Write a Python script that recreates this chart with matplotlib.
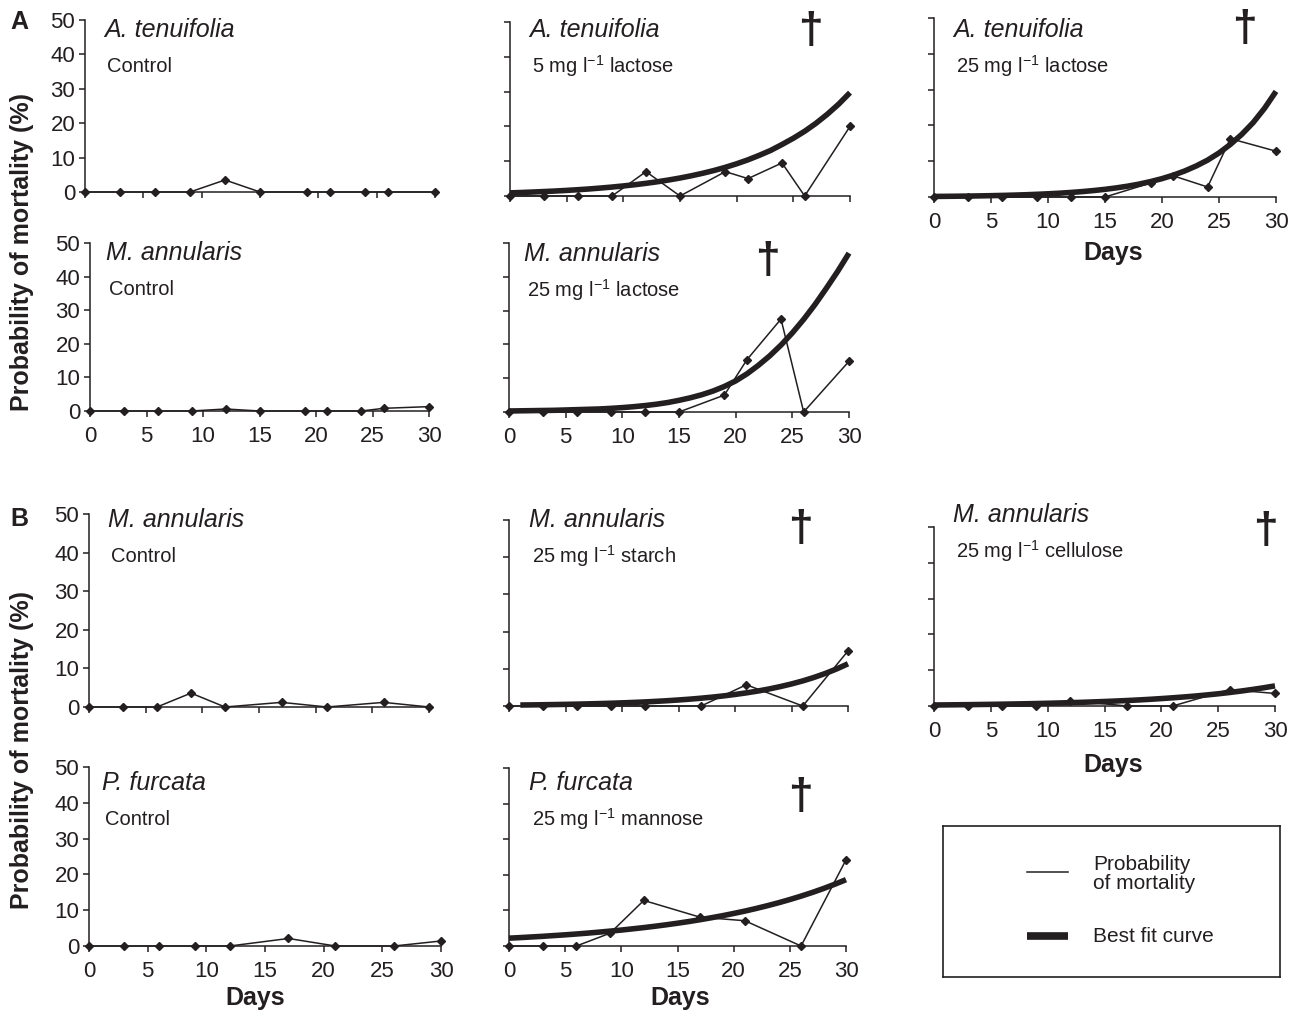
import matplotlib
matplotlib.use("Agg")
import matplotlib.pyplot as plt
from matplotlib.lines import Line2D

plt.rcParams['font.family'] = ['Liberation Sans', 'DejaVu Sans']
plt.rcParams['mathtext.fontset'] = 'custom'
plt.rcParams['mathtext.rm'] = 'Liberation Sans'

W, H = 1297, 1013
INK = '#231f20'

# days sampled
days_a = [0, 3, 6, 9, 12, 15, 19, 21, 24, 26, 30]
days_b = [0, 3, 6, 9, 12, 17, 21, 26, 30]

# probability of mortality (%)
at_ctrl = [0, 0, 0, 0, 3.5, 0, 0, 0, 0, 0, 0]
ma_ctrl_a = [0, 0, 0, 0, 0.6, 0, 0, 0, 0, 0.8, 1.3]
at_lac5 = [0, 0, 0, 0, 7, 0, 7, 5, 9.5, 0, 20]
at_lac25 = [0, 0, 0, 0, 0, 0, 3.9, 5.9, 2.8, 16.3, 12.8]
ma_lac25 = [0, 0, 0, 0, 0, 0, 5, 15.5, 27.5, 0, 15]

ma_ctrl_b = [0, 0, 0, 3.6, 0, 1.2, 0, 1.2, 0]
ma_starch = [0, 0, 0, 0, 0, 0, 5.7, 0, 14.8]
ma_cell = [0, 0, 0, 0, 1.5, 0, 0, 4.6, 3.5]
pf_ctrl = [0, 0, 0, 0, 0, 2.1, 0, 0, 1.4]
pf_mann = [0, 0, 0, 3.6, 12.8, 8.1, 7.1, 0, 24.2]

# best fit curves (one value per day)
fit_days = [0, 1, 2, 3, 4, 5, 6, 7, 8, 9, 10, 11, 12, 13, 14, 15,
            16, 17, 18, 19, 20, 21, 22, 23, 24, 25, 26, 27, 28, 29, 30]
fit_at_lac5 = [0.9, 1.01, 1.14, 1.28, 1.43, 1.61, 1.81, 2.03, 2.29, 2.57, 2.89,
               3.24, 3.64, 4.09, 4.6, 5.17, 5.81, 6.53, 7.33, 8.24, 9.26,
               10.4, 11.7, 13.1, 14.8, 16.6, 18.6, 20.9, 23.5, 26.4, 29.7]
fit_at_lac25 = [0.155, 0.185, 0.22, 0.262, 0.312, 0.372, 0.443, 0.528, 0.628, 0.749, 0.892,
                1.06, 1.27, 1.51, 1.8, 2.14, 2.55, 3.03, 3.61, 4.31, 5.13,
                6.11, 7.28, 8.67, 10.3, 12.3, 14.7, 17.5, 20.8, 24.8, 29.5]
fit_ma_lac25 = [0.3, 0.35, 0.4, 0.45, 0.5, 0.6, 0.7, 0.8, 0.9, 1.08, 1.3,
                1.57, 1.9, 2.3, 2.8, 3.45, 4.2, 5.1, 6.2, 7.55, 9.2,
                11.3, 13.8, 16.6, 19.8, 23.4, 27.4, 31.8, 36.6, 41.6, 47.0]
fit_days_starch = [1, 2, 3, 4, 5, 6, 7, 8, 9, 10, 11, 12, 13, 14, 15,
                   16, 17, 18, 19, 20, 21, 22, 23, 24, 25, 26, 27, 28, 29, 30]
fit_ma_starch = [0.262, 0.298, 0.34, 0.387, 0.44, 0.502, 0.571, 0.651, 0.741, 0.844,
                 0.961, 1.09, 1.25, 1.42, 1.62, 1.84, 2.1, 2.39, 2.72, 3.1,
                 3.53, 4.01, 4.57, 5.21, 5.93, 6.75, 7.69, 8.76, 9.97, 11.35]
fit_ma_cell = [0.28, 0.309, 0.342, 0.378, 0.418, 0.462, 0.51, 0.564, 0.623, 0.689, 0.761,
               0.841, 0.93, 1.03, 1.14, 1.26, 1.39, 1.53, 1.69, 1.87, 2.07,
               2.29, 2.53, 2.79, 3.09, 3.41, 3.77, 4.17, 4.61, 5.09, 5.62]
fit_pf_mann = [2.2, 2.36, 2.54, 2.72, 2.93, 3.14, 3.37, 3.62, 3.89, 4.18, 4.48,
               4.82, 5.17, 5.55, 5.96, 6.4, 6.87, 7.38, 7.93, 8.51, 9.14,
               9.81, 10.54, 11.32, 12.15, 13.05, 14.01, 15.04, 16.15, 17.35, 18.63]

fig = plt.figure(figsize=(W / 100, H / 100), dpi=100)


def fx(x):
    return x / W


def fy(y):
    return 1 - y / H


def panel(l, r, t, b, days, vals, fit_x=None, fit_y=None, xlab=False, ylab=False):
    ax = fig.add_axes([fx(l), fy(b), fx(r - l), (b - t) / H])
    ax.set_xlim(0, 30)
    ax.set_ylim(0, 50)
    for s in ['top', 'right']:
        ax.spines[s].set_visible(False)
    for s in ['left', 'bottom']:
        ax.spines[s].set_linewidth(1.1)
        ax.spines[s].set_color(INK)
    ax.set_xticks([0, 5, 10, 15, 20, 25, 30])
    ax.set_yticks([0, 10, 20, 30, 40, 50])
    ax.tick_params(direction='out', length=4, width=1.1, color=INK,
                   labelsize=16, labelcolor=INK)
    ax.tick_params(axis='x', pad=7)
    ax.tick_params(axis='y', pad=3)
    ax.tick_params(labelbottom=xlab, labelleft=ylab)
    ax.patch.set_alpha(0)
    ax.plot(days, vals, color=INK, lw=1.1, marker='D', ms=4.2, clip_on=False, zorder=3)
    if fit_x is not None:
        ax.plot(fit_x, fit_y, color=INK, lw=4, solid_capstyle='butt',
                solid_joinstyle='round', clip_on=False, zorder=4)
    return ax


def label(x, y, title, sub):
    fig.text(fx(x), fy(y), title, fontsize=18, fontstyle='italic', color=INK, va='center')
    fig.text(fx(x + 3), fy(y + 36), sub, fontsize=14.5, color=INK, va='center')


def dagger(x, y):
    fig.text(fx(x), fy(y), '\u2020', fontsize=32, fontweight='bold', color=INK,
             ha='center', va='center')


# A
panel(85, 435, 20, 192, days_a, at_ctrl, ylab=True)
panel(510, 850, 22, 196, days_a, at_lac5, fit_days, fit_at_lac5)
panel(934, 1276, 18, 197, days_a, at_lac25, fit_days, fit_at_lac25, xlab=True)
panel(90, 429, 243, 411, days_a, ma_ctrl_a, xlab=True, ylab=True)
panel(509, 849, 243, 412, days_a, ma_lac25, fit_days, fit_ma_lac25, xlab=True)

# B
panel(89, 429, 514, 707, days_b, ma_ctrl_b, ylab=True)
panel(509, 848, 520, 706, days_b, ma_starch, fit_days_starch, fit_ma_starch)
panel(934, 1275, 527, 706, days_b, ma_cell, fit_days, fit_ma_cell, xlab=True)
panel(89, 441, 767, 946, days_b, pf_ctrl, xlab=True, ylab=True)
panel(509, 846, 768, 946, days_b, pf_mann, fit_days, fit_pf_mann, xlab=True)

label(104, 30, 'A. tenuifolia', 'Control')
label(529, 30, 'A. tenuifolia', '5 mg l$^{-1}$ lactose')
label(953, 30, 'A. tenuifolia', '25 mg l$^{-1}$ lactose')
label(106, 253, 'M. annularis', 'Control')
label(524, 254, 'M. annularis', '25 mg l$^{-1}$ lactose')
label(108, 520, 'M. annularis', 'Control')
label(529, 520, 'M. annularis', '25 mg l$^{-1}$ starch')
label(953, 515, 'M. annularis', '25 mg l$^{-1}$ cellulose')
label(102, 783, 'P. furcata', 'Control')
label(529, 783, 'P. furcata', '25 mg l$^{-1}$ mannose')

dagger(810, 32)
dagger(1244, 29)
dagger(767, 262)
dagger(800, 530)
dagger(1265, 531)
dagger(800, 797)

fig.text(fx(10), fy(22), 'A', fontsize=18, fontweight='bold', color=INK, va='center')
fig.text(fx(10), fy(519), 'B', fontsize=18, fontweight='bold', color=INK, va='center')

for yc in [252, 750]:
    fig.text(fx(22), fy(yc), 'Probability of mortality (%)', rotation=90, fontsize=18,
             fontweight='bold', color=INK, ha='center', va='center')

for xc, yc in [(255, 998), (680, 998), (1113, 253), (1113, 765)]:
    fig.text(fx(xc), fy(yc), 'Days', fontsize=18, fontweight='bold', color=INK,
             ha='center', va='center')

# legend box
leg = fig.add_axes([fx(943), fy(977), fx(1280 - 943), (977 - 826) / H])
leg.set_xlim(943, 1280)
leg.set_ylim(977, 826)
leg.set_xticks([])
leg.set_yticks([])
for s in leg.spines.values():
    s.set_linewidth(1.2)
    s.set_color(INK)
leg.add_line(Line2D([1027, 1068], [872, 872], color=INK, lw=1.1))
leg.add_line(Line2D([1027, 1068], [936, 936], color=INK, lw=5.5, solid_capstyle='butt'))
leg.text(1093, 874, 'Probability\nof mortality', fontsize=15, color=INK, va='center',
         linespacing=1.05)
leg.text(1093, 936, 'Best fit curve', fontsize=15, color=INK, va='center')

fig.savefig('out.png', dpi=100)
